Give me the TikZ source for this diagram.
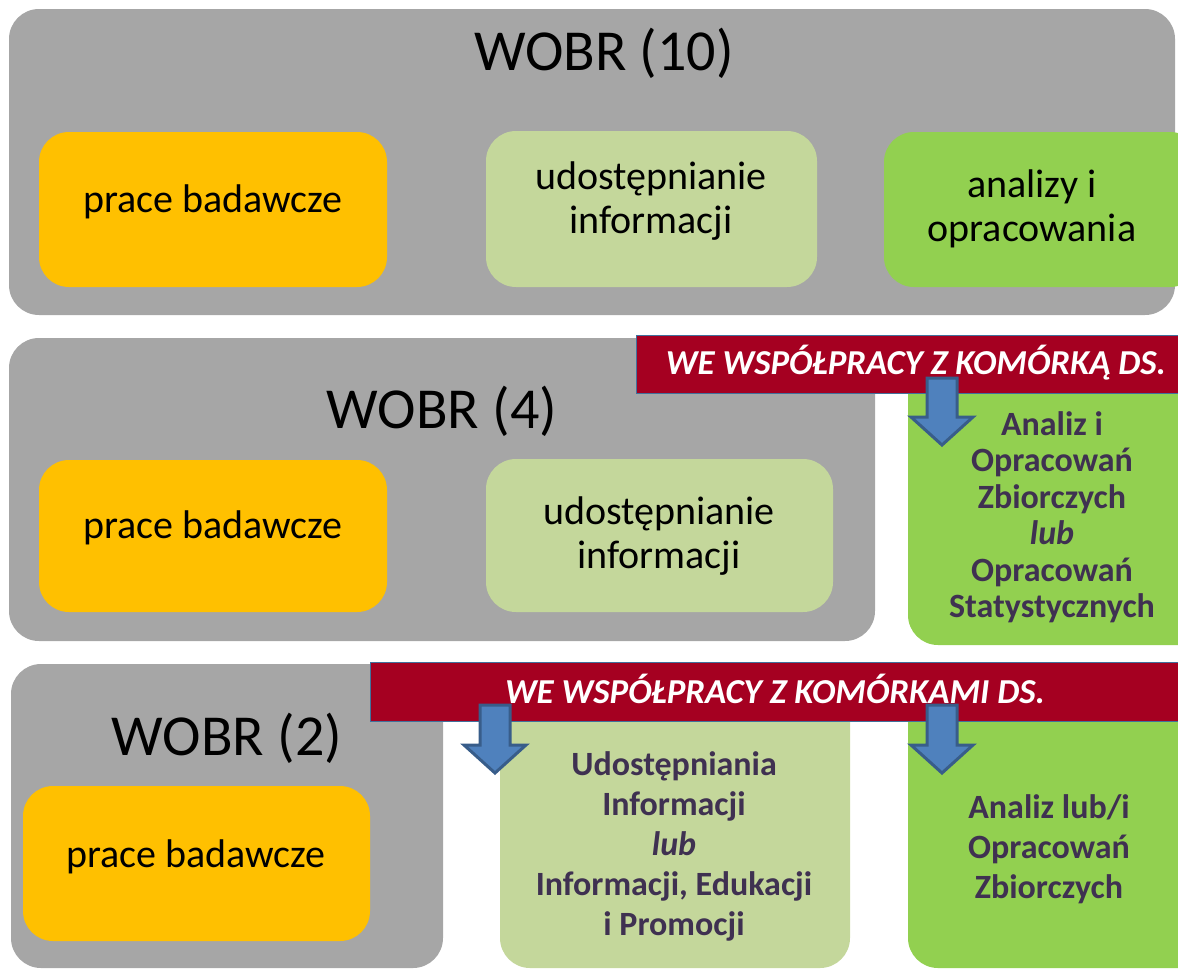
\documentclass[tikz,border=0pt]{standalone}
\usepackage{fontspec}
\setmainfont{Carlito}
\definecolor{panelgray}{HTML}{A6A6A6}
\definecolor{borange}{HTML}{FFC000}
\definecolor{lgreen}{HTML}{C4D79B}
\definecolor{dgreen}{HTML}{92D050}
\definecolor{crimson}{HTML}{A50021}
\definecolor{bannerline}{HTML}{41719C}
\definecolor{arrowfill}{HTML}{4F81BD}
\definecolor{arrowline}{HTML}{385D8A}
\definecolor{txtpurple}{HTML}{3F3151}
\begin{document}
\begin{tikzpicture}[x=1pt,y=-1pt,
  panel/.style={fill=panelgray, rounded corners=30pt},
  box/.style={rounded corners=30pt},
  banner/.style={fill=crimson, draw=bannerline, line width=1pt},
  blockarrow/.style={fill=arrowfill, draw=arrowline, line width=3pt, line join=miter},
  title/.style={font=\fontsize{58}{64}\selectfont, inner sep=0pt, anchor=base},
  regtxt/.style={font=\fontsize{40}{44}\selectfont, inner sep=0pt, align=center, anchor=north},
  boldtxt/.style={font=\bfseries\fontsize{34}{40}\selectfont, text=txtpurple, inner sep=0pt, align=center, anchor=north},
  bannertxt/.style={font=\bfseries\itshape\fontsize{35}{40}\selectfont, text=white, inner sep=0pt, anchor=base}]
\useasboundingbox (0,0) rectangle (1178,970);
\clip (0,0) rectangle (1178,970);
% ---------- row 1
\path[panel] (9,9) rectangle (1175,315);
\path[box, fill=borange] (39,132) rectangle (387,287);
\path[box, fill=lgreen] (486,131) rectangle (817,287);
\path[box, fill=dgreen] (884,132) rectangle (1200,287);
\node[title] (t10) at (604,70) {WOBR (10)};
\node[regtxt] (pb1) at (213,180) {\rule{0pt}{32pt}prace badawcze};
\node[regtxt] (ui1) at (651,157) {\rule{0pt}{32pt}udostępnianie\\informacji};
\node[regtxt] (ao1) at (1032,165) {\rule{0pt}{32pt}analizy i\\opracowania};
% ---------- row 2
\path[panel] (9,338) rectangle (875,641);
\path[box, fill=borange] (39,460) rectangle (387,612);
\path[box, fill=lgreen] (486,459) rectangle (833,612);
\path[box, fill=dgreen] (908,360) rectangle (1210,645);
\path[banner] (636,335) rectangle (1200,393);
\node[bannertxt] (b1) at (916,374) {WE WSPÓŁPRACY Z KOMÓRKĄ DS.};
\node[title] (t4) at (442,428) {WOBR (4)};
\node[regtxt] (pb2) at (213,506.5) {\rule{0pt}{32pt}prace badawcze};
\node[regtxt] (ui2) at (659,492) {\rule{0pt}{32pt}udostępnianie\\informacji};
\node[boldtxt, font=\bfseries\fontsize{34}{36.5}\selectfont] (az2) at (1052,405) {\rule{0pt}{30pt}Analiz i\\Opracowań\\Zbiorczych\\\textit{lub}\\Opracowań\\Statystycznych};
\path[blockarrow] (927,378) -- (957,378) -- (957,417) -- (973,417) -- (942,445) -- (911,417) -- (927,417) -- cycle;
% ---------- row 3
\path[panel] (11,664) rectangle (443,968);
\path[box, fill=borange] (23,786) rectangle (370,941);
\path[box, fill=lgreen] (500,690) rectangle (850,968);
\path[box, fill=dgreen] (908,690) rectangle (1210,968);
\path[banner] (370,662) rectangle (1200,721);
\node[bannertxt] (b2) at (775,703) {WE WSPÓŁPRACY Z KOMÓRKAMI DS.};
\node[title] (t2) at (227,755) {WOBR (2)};
\node[regtxt] (pb3) at (196,835) {\rule{0pt}{32pt}prace badawcze};
\node[boldtxt] (ui3) at (674,745) {\rule{0pt}{30pt}Udostępniania\\Informacji\\\textit{lub}\\Informacji, Edukacji\\i Promocji};
\node[boldtxt] (az3) at (1049,788) {\rule{0pt}{30pt}Analiz lub/i\\Opracowań\\Zbiorczych};
\path[blockarrow] (480,705) -- (510,705) -- (510,745) -- (526,745) -- (495,773) -- (464,745) -- (480,745) -- cycle;
\path[blockarrow] (927,705) -- (957,705) -- (957,745) -- (973,745) -- (942,773) -- (911,745) -- (927,745) -- cycle;
\end{tikzpicture}
\end{document}
